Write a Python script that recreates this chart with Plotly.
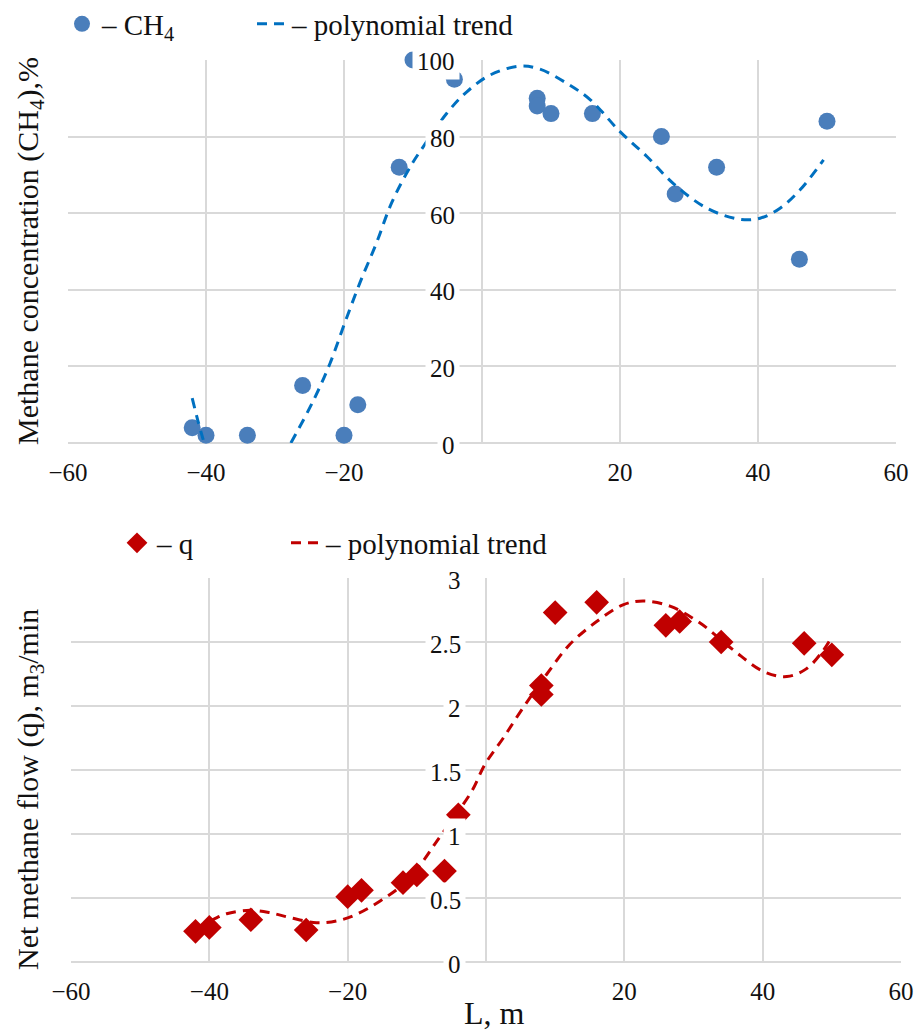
import plotly.graph_objects as go

# ---------------- data: top chart (CH4) ----------------
L_ch4 = [-42, -40, -34, -26, -20, -18, -12, -10, -4, 8, 8, 10, 16, 26, 28, 34, 46, 50]
ch4 = [4, 2, 2, 15, 2, 10, 72, 100, 95, 90, 88, 86, 86, 80, 65, 72, 48, 84]

trend_ch4_L = [-42, -41.2, -40.4, None, -27.7, -24.4, -22, -19.9, -17.7, -15.3, -13.1,
               -10.4, -8.5, -5.1, -2.2, 1.2, 5.5, 8.4, 12.3, 15.7, 20, 23.9, 27.7,
               32.6, 37.4, 40.3, 43.2, 46.1, 49.5]
trend_ch4 = [11.7, 6.0, 0.8, None, 0, 11.2, 20.9, 31.3, 41.8, 52.2, 62.7,
             72.1, 77.4, 86.1, 91.7, 96.1, 98.4, 97.6, 93.9, 89.6, 81.3, 74.8, 67.8,
             61.3, 58.4, 58.7, 61.3, 66.1, 73.9]

# ---------------- data: bottom chart (q) ----------------
L_q = [-42, -40, -34, -26, -20, -18, -12, -10, -6, -4, 8, 8, 10, 16, 26, 28, 34, 46, 50]
q = [0.24, 0.27, 0.33, 0.25, 0.51, 0.56, 0.62, 0.68, 0.71, 1.15, 2.16, 2.09, 2.73,
     2.81, 2.63, 2.66, 2.50, 2.49, 2.40]

trend_q_L = [-42, -39.4, -37.5, -34.1, -31.2, -28.3, -24.5, -21.6, -18.7, -15.3, -12,
             -9.1, -7.1, -4.5, -2.0, -0.14, 2.5, 5.4, 8.8, 12.1, 16, 19.8, 22.7, 26.6,
             30.9, 35.7, 40.1, 43.5, 46.3, 48.7, 50]
trend_q = [0.26, 0.333, 0.377, 0.404, 0.385, 0.346, 0.307, 0.32, 0.373, 0.477, 0.607,
           0.789, 0.945, 1.14, 1.34, 1.545, 1.75, 1.99, 2.25, 2.48, 2.66, 2.79, 2.82, 2.78,
           2.65, 2.44, 2.27, 2.23, 2.29, 2.43, 2.54]

# ---------------- ticks ----------------
x_tickvals = [-60, -40, -20, 20, 40, 60]
x_ticktext = ["\u221260", "\u221240", "\u221220", "20", "40", "60"]
y1_tickvals = [0, 20, 40, 60, 80, 100]
y1_ticktext = ["0", "20", "40", "60", "80", "100"]
y2_tickvals = [0, 0.5, 1, 1.5, 2, 2.5, 3]
y2_ticktext = ["0", "0.5", "1", "1.5", "2", "2.5", "3"]

FONT = "Liberation Serif"
GRID = "#d9d9d9"
TXT = "#111111"
W, H = 918, 1032

fig = go.Figure()

fig.add_trace(go.Scatter(
    x=L_ch4, y=ch4, mode="markers", name="\u2013 CH<sub>4</sub>",
    marker=dict(symbol="circle", size=17, color="#4a7ebb"),
    cliponaxis=False, xaxis="x", yaxis="y", legend="legend"))
fig.add_trace(go.Scatter(
    x=trend_ch4_L, y=trend_ch4, mode="lines", name="\u2013 polynomial trend",
    line=dict(color="#0070c0", width=3, dash="10px,7px", shape="spline"),
    connectgaps=False, xaxis="x", yaxis="y", legend="legend2"))

fig.add_trace(go.Scatter(
    x=L_q, y=q, mode="markers", name="\u2013 q",
    marker=dict(symbol="diamond", size=19, color="#c00000"),
    cliponaxis=False, xaxis="x2", yaxis="y2", legend="legend3"))
fig.add_trace(go.Scatter(
    x=trend_q_L, y=trend_q, mode="lines", name="\u2013 polynomial trend",
    line=dict(color="#c00000", width=3, dash="10px,7px", shape="spline"),
    xaxis="x2", yaxis="y2", legend="legend4"))

xcommon = dict(range=[-60, 60], tickvals=x_tickvals, ticktext=x_ticktext,
               showgrid=True, gridcolor=GRID, gridwidth=2,
               zeroline=True, zerolinecolor=GRID, zerolinewidth=2,
               showline=False, ticks="", ticklabelstandoff=12, automargin=False,
               tickfont=dict(family=FONT, size=25, color=TXT))

annotations = []
for v, t in zip(y1_tickvals, y1_ticktext):
    annotations.append(dict(x=0, y=v, xref="x", yref="y", text=t, showarrow=False,
                            xanchor="right", yanchor="middle", xshift=-22, yshift=-2,
                            bgcolor="white", borderpad=4,
                            font=dict(family=FONT, size=25, color=TXT)))
for v, t in zip(y2_tickvals, y2_ticktext):
    annotations.append(dict(x=0, y=v, xref="x2", yref="y2", text=t, showarrow=False,
                            xanchor="right", yanchor="middle", xshift=-20, yshift=-2,
                            bgcolor="white", borderpad=4,
                            font=dict(family=FONT, size=25, color=TXT)))

annotations.append(dict(x=30 / W, y=1 - 251 / H, xref="paper", yref="paper",
                        text="Methane concentration (CH<sub>4</sub>),%", textangle=-90,
                        showarrow=False, xanchor="center", yanchor="middle",
                        font=dict(family=FONT, size=30, color=TXT)))
annotations.append(dict(x=30 / W, y=1 - 790 / H, xref="paper", yref="paper",
                        text="Net methane flow (q), m<sub>3</sub>/min", textangle=-90,
                        showarrow=False, xanchor="center", yanchor="middle",
                        font=dict(family=FONT, size=30, color=TXT)))
annotations.append(dict(x=494 / W, y=1 - 1013 / H, xref="paper", yref="paper",
                        text="L, m", showarrow=False, xanchor="center", yanchor="middle",
                        font=dict(family=FONT, size=32, color=TXT)))

legend_font = dict(family=FONT, size=29, color=TXT)


def leg(xpx, ypx):
    return dict(orientation="h", x=xpx / W, y=1 - ypx / H, xanchor="left",
                yanchor="middle", font=legend_font, bgcolor="rgba(0,0,0,0)",
                borderwidth=0)


fig.update_layout(
    width=W, height=H,
    margin=dict(l=0, r=0, t=0, b=0, pad=0, autoexpand=False),
    paper_bgcolor="white", plot_bgcolor="white",
    xaxis=dict(domain=[68 / W, 896 / W], anchor="y", **xcommon),
    yaxis=dict(domain=[1 - 443 / H, 1 - 60 / H], anchor="x", range=[0, 100],
               tickvals=y1_tickvals, showticklabels=False, showgrid=True,
               gridcolor=GRID, gridwidth=2, zeroline=True, zerolinecolor=GRID,
               zerolinewidth=2, showline=False, ticks="", automargin=False),
    xaxis2=dict(domain=[71 / W, 901 / W], anchor="y2", **xcommon),
    yaxis2=dict(domain=[1 - 962 / H, 1 - 578 / H], anchor="x2", range=[0, 3],
                tickvals=y2_tickvals, showticklabels=False, showgrid=True,
                gridcolor=GRID, gridwidth=2, zeroline=True, zerolinecolor=GRID,
                zerolinewidth=2, showline=False, ticks="", automargin=False),
    legend=leg(62, 24),
    legend2=leg(252, 24),
    legend3=leg(117, 543),
    legend4=leg(286, 543),
    annotations=annotations,
    showlegend=True,
)

fig.write_html("out.html",
               config={"displayModeBar": False},
               post_script="document.body.style.margin='0';document.body.style.overflow='hidden';")
